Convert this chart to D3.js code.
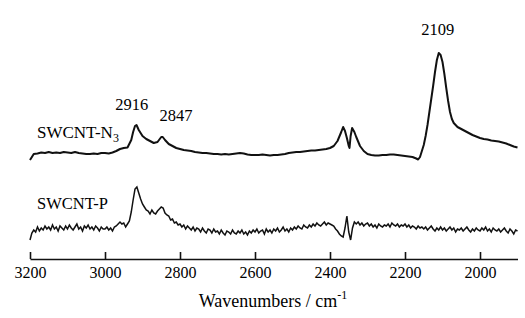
<!DOCTYPE html>
<html>
<head>
<meta charset="utf-8">
<script src="https://cdn.jsdelivr.net/npm/d3@7"></script>
<style>
  body { margin: 0; background: #fff; }
  svg text { font-family: "Liberation Serif", "Times New Roman", serif; fill: #000; }
</style>
</head>
<body>
<div id="chart"></div>
<script>
// SWCNT-N3 (upper trace), uneven steps near the sharp bands
const wnTop = [
  3200, 3190, 3180, 3170, 3160, 3150, 3140, 3130, 3120, 3110,
  3100, 3090, 3080, 3070, 3060, 3050, 3040, 3030, 3020, 3010,
  3000, 2990, 2980, 2970, 2960, 2950, 2940, 2930, 2925, 2920,
  2916, 2910, 2900, 2890, 2880, 2870, 2860, 2850, 2846, 2840,
  2830, 2820, 2810, 2800, 2790, 2780, 2770, 2760, 2750, 2740,
  2730, 2720, 2710, 2700, 2690, 2680, 2670, 2660, 2650, 2640,
  2630, 2620, 2610, 2600, 2590, 2580, 2570, 2560, 2550, 2540,
  2530, 2520, 2510, 2500, 2490, 2480, 2470, 2460, 2450, 2440,
  2430, 2420, 2410, 2400, 2390, 2380, 2370, 2365, 2360, 2355,
  2350, 2348, 2345, 2341, 2335, 2330, 2320, 2310, 2300, 2290,
  2280, 2270, 2260, 2250, 2240, 2230, 2220, 2210, 2200, 2190,
  2180, 2170, 2165, 2160, 2155, 2150, 2145, 2140, 2135, 2130,
  2125, 2120, 2115, 2110, 2105, 2100, 2095, 2090, 2085, 2080,
  2075, 2070, 2060, 2050, 2040, 2030, 2020, 2010, 2000, 1990,
  1980, 1970, 1960, 1950, 1940, 1930, 1920, 1910, 1900
];
const absTop = [
  85, 91, 91.5, 92.5, 92, 93, 92, 92.5, 92, 93,
  92.5, 92, 93, 92, 91.5, 91, 91, 91.5, 91, 92,
  92, 91.5, 92.5, 94, 96, 97, 97.5, 105, 113, 119,
  120, 115, 109, 106, 104, 102, 103, 108, 108, 105,
  101, 99, 97, 96, 95, 94.5, 94, 93, 92.5, 92,
  92, 91.5, 91, 91, 90.5, 91, 90.5, 91, 91.5, 92,
  91.5, 90.5, 90, 90, 90, 90.5, 90, 89.5, 90, 90,
  90.5, 91, 92, 92.5, 93, 93, 93.5, 94, 94.5, 94.5,
  95, 95.5, 96, 97, 99, 104, 113, 118, 114, 107,
  99, 97, 109, 117, 113, 108, 99, 94, 91, 90,
  89.5, 89.5, 90, 90, 90.5, 90.5, 90, 89.5, 89, 88.5,
  88, 86.5, 85.5, 88, 94, 100, 109, 120, 133, 146,
  159, 173, 185, 192, 190, 183, 171, 157, 144, 133,
  126, 122, 118, 116, 114, 112, 110, 108.5, 107, 106,
  105.5, 104.5, 104, 103.5, 102.5, 101.5, 100, 98.5, 97.5
];

// SWCNT-P (lower trace), every 5 cm-1 from 3200 down to 1900
const wnBottom = d3.range(3200, 1899, -5);
const absBottom = [
  5, 12, 15, 13, 18, 14, 17, 15, 19, 16,
  18, 15, 20, 16, 18, 14, 19, 17, 15, 19,
  16, 20, 17, 15, 18, 21, 16, 18, 14, 19,
  17, 20, 16, 18, 15, 19, 17, 14, 18, 16,
  16, 18, 15, 17, 14, 18, 19, 21, 23, 21,
  22, 18, 21, 24, 33, 45, 56, 58, 52, 46,
  41, 38, 35, 34, 31, 35, 32, 31, 34, 36,
  38, 37, 32, 30, 29, 25, 26, 22, 23, 20,
  21, 18, 20, 16, 19, 17, 15, 18, 14, 17,
  16, 13, 17, 14, 12, 16, 15, 12, 16, 13,
  14, 11, 15, 12, 10, 14, 13, 11, 15, 12,
  11, 14, 12, 15, 11, 13, 10, 14, 12, 15,
  13, 16, 12, 14, 15, 11, 16, 13, 15, 12,
  16, 14, 17, 13, 15, 18, 14, 16, 13, 17,
  15, 18, 16, 19, 17, 16, 20, 18, 17, 20,
  18, 21, 19, 22, 20, 19, 21, 23, 20, 22,
  21, 20, 19, 16, 14, 11, 9, 8, 17, 29,
  13, 5, 17, 23, 21, 23, 20, 22, 19, 21,
  22, 19, 21, 18, 20, 17, 21, 19, 18, 20,
  19, 21, 18, 22, 20, 19, 21, 18, 20, 19,
  21, 18, 20, 17, 19, 18, 16, 19, 17, 18,
  16, 18, 15, 17, 19, 16, 14, 17, 15, 18,
  15, 17, 14, 16, 18, 15, 17, 13, 16, 15,
  17, 14, 16, 18, 15, 13, 16, 14, 17, 15,
  14, 17, 15, 18, 14, 16, 13, 17, 15, 14,
  16, 13, 15, 17, 14, 12, 16, 14, 11, 15,
  14
];

const tickValues = [3200, 3000, 2800, 2600, 2400, 2200, 2000];
// label anchor positions (wavenumber, absorbance) for the peak annotations
const peakLabels = [
  { wn: 2929, text: "2916", y: 135 },
  { wn: 2811, text: "2847", y: 124 },
  { wn: 2113, text: "2109", y: 210 }
];

const width = 525, height = 318;

const svg = d3.select("#chart")
    .append("svg")
    .attr("width", width)
    .attr("height", height);

const x = d3.scaleLinear().domain([3200, 1900]).range([30, 517.5]);
const y = d3.scaleLinear().domain([0, 200]).range([245, 45]);

const line = d3.line()
    .x(d => x(d[0]))
    .y(d => y(d[1]));

svg.append("path")
    .datum(wnTop.map((w, i) => [w, absTop[i]]))
    .attr("fill", "none")
    .attr("stroke", "#111")
    .attr("stroke-width", 2)
    .attr("stroke-linejoin", "round")
    .attr("d", line);

svg.append("path")
    .datum(wnBottom.map((w, i) => [w, absBottom[i]]))
    .attr("fill", "none")
    .attr("stroke", "#111")
    .attr("stroke-width", 1.5)
    .attr("d", line);

// x axis, ticks pointing up
const axis = svg.append("g")
    .attr("transform", "translate(0,259)")
    .call(d3.axisBottom(x)
        .tickValues(tickValues)
        .tickFormat(d3.format("d"))
        .tickSizeInner(-7)
        .tickSizeOuter(0)
        .tickPadding(8));

axis.select(".domain").attr("stroke", "#111").attr("stroke-width", 1.6);
axis.selectAll(".tick line").attr("stroke", "#111").attr("stroke-width", 1.6);
axis.selectAll(".tick text")
    .attr("font-size", 16)
    .attr("fill", "#000");

// axis title
const title = svg.append("text")
    .attr("x", 273)
    .attr("y", 307)
    .attr("text-anchor", "middle")
    .attr("font-size", 18);
title.append("tspan").text("Wavenumbers / cm");
title.append("tspan").attr("font-size", 12).attr("dy", -8).text("-1");

// peak labels
svg.selectAll(".peak")
    .data(peakLabels)
    .enter().append("text")
    .attr("class", "peak")
    .attr("x", d => x(d.wn))
    .attr("y", d => y(d.y))
    .attr("text-anchor", "middle")
    .attr("font-size", 16.5)
    .text(d => d.text);

// trace names
const n3 = svg.append("text")
    .attr("x", 37)
    .attr("y", 138)
    .attr("font-size", 17);
n3.append("tspan").text("SWCNT-N");
n3.append("tspan").attr("font-size", 12).attr("dy", 4).text("3");

svg.append("text")
    .attr("x", 37)
    .attr("y", 209)
    .attr("font-size", 16.5)
    .text("SWCNT-P");
</script>
</body>
</html>
